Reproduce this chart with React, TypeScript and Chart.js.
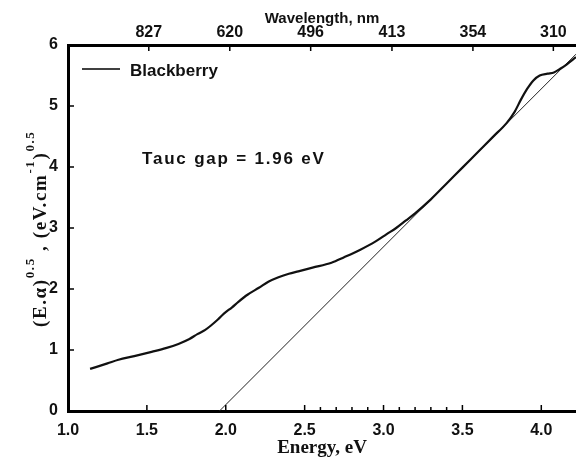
import React, { useEffect, useRef } from "react";
import { Chart, registerables } from "chart.js";

Chart.register(...registerables);

// Energy (eV) and (E·α)^0.5 of the Blackberry sample
const energy = [
  1.14, 1.25, 1.32, 1.42, 1.53, 1.62, 1.70, 1.77, 1.82, 1.87, 1.91, 1.95, 1.99,
  2.04, 2.08, 2.14, 2.21, 2.27, 2.33, 2.40, 2.46, 2.55, 2.67, 2.75, 2.85, 2.95,
  3.02, 3.08, 3.14, 3.20, 3.30, 3.40, 3.50, 3.60, 3.70, 3.78, 3.83, 3.87, 3.91,
  3.95, 3.99, 4.04, 4.08, 4.12, 4.16, 4.22,
];
const absorption = [
  0.69, 0.78, 0.84, 0.9, 0.97, 1.03, 1.1, 1.18, 1.26, 1.33, 1.41, 1.5, 1.6,
  1.7, 1.79, 1.91, 2.02, 2.12, 2.19, 2.25, 2.29, 2.35, 2.43, 2.52, 2.64, 2.78,
  2.9, 3.0, 3.12, 3.24, 3.47, 3.73, 3.99, 4.25, 4.51, 4.72, 4.9, 5.1, 5.28,
  5.42, 5.5, 5.53, 5.55, 5.61, 5.68, 5.8,
];
// Tauc extrapolation line
const taucEnergy = [1.96, 4.22];
const taucValue = [0, 5.85];

const energyTicks = [1.0, 1.5, 2.0, 2.5, 3.0, 3.5, 4.0];
const minorEnergyTicks = [2.6, 2.7, 2.8, 2.9, 3.1, 3.2, 3.3, 3.4];
const wavelengthTicks = [827, 620, 496, 413, 354, 310];
const yTicks = [0, 1, 2, 3, 4, 5, 6];

const seriesLabel = "Blackberry";
const gapLabel = "Tauc gap = 1.96 eV";

const SANS = '"Liberation Sans", Arial, sans-serif';
const SERIF = '"Liberation Serif", "Times New Roman", serif';

const overlayPlugin = {
  id: "overlay",
  afterDraw(chart: any) {
    const ctx = chart.ctx as CanvasRenderingContext2D;
    const area = chart.chartArea;
    const xs = chart.scales.x;
    const xt = chart.scales.x2;
    const ys = chart.scales.y;
    ctx.save();
    ctx.strokeStyle = "#000";
    ctx.lineWidth = 1.5;
    // inner tick marks
    ctx.beginPath();
    energyTicks.forEach((v) => {
      if (v <= 1.0) return;
      const px = xs.getPixelForValue(v);
      ctx.moveTo(px, area.bottom);
      ctx.lineTo(px, area.bottom - 6);
    });
    minorEnergyTicks.forEach((v) => {
      const px = xs.getPixelForValue(v);
      ctx.moveTo(px, area.bottom);
      ctx.lineTo(px, area.bottom - 4);
    });
    wavelengthTicks.forEach((w) => {
      const px = xt.getPixelForValue(1240 / w);
      ctx.moveTo(px, area.top);
      ctx.lineTo(px, area.top + 6);
    });
    yTicks.forEach((v) => {
      if (v === 0 || v === 6) return;
      const py = ys.getPixelForValue(v);
      ctx.moveTo(area.left, py);
      ctx.lineTo(area.left + 6, py);
    });
    ctx.stroke();

    // legend
    ctx.lineWidth = 1.5;
    ctx.beginPath();
    ctx.moveTo(82, 69);
    ctx.lineTo(120, 69);
    ctx.stroke();
    ctx.fillStyle = "#111";
    ctx.font = `bold 17px ${SANS}`;
    ctx.textBaseline = "alphabetic";
    ctx.textAlign = "left";
    ctx.fillText(chart.data.datasets[0].label, 130, 76);

    // annotation
    (ctx as any).letterSpacing = "1.8px";
    ctx.font = `bold 17px ${SANS}`;
    ctx.fillText(gapLabel, 142, 164);

    // y-axis title with superscripts
    (ctx as any).letterSpacing = "1.6px";
    const parts: [string, boolean][] = [
      ["(E.α)", false],
      ["0.5", true],
      [" , (eV.cm", false],
      ["-1", true],
      [")", false],
      ["0.5", true],
    ];
    ctx.translate(46, 327);
    ctx.rotate(-Math.PI / 2);
    let cx = 0;
    parts.forEach(([t, sup]) => {
      ctx.font = sup ? `bold 13px ${SERIF}` : `bold 19px ${SERIF}`;
      ctx.fillText(t, cx, sup ? -12 : 0);
      cx += ctx.measureText(t).width;
    });
    ctx.restore();
  },
};

export default function App() {
  const ref = useRef<HTMLCanvasElement | null>(null);
  useEffect(() => {
    if (!ref.current) return;
    const chart = new Chart(ref.current, {
      type: "line",
      data: {
        datasets: [
          {
            label: seriesLabel,
            data: energy.map((e, i) => ({ x: e, y: absorption[i] })),
            borderColor: "#111",
            borderWidth: 2.2,
            pointRadius: 0,
            cubicInterpolationMode: "monotone",
            xAxisID: "x",
            yAxisID: "y",
          },
          {
            label: "Tauc fit",
            data: taucEnergy.map((e, i) => ({ x: e, y: taucValue[i] })),
            borderColor: "#222",
            borderWidth: 1,
            pointRadius: 0,
            xAxisID: "x",
            yAxisID: "y",
          },
        ],
      },
      options: {
        animation: false,
        responsive: true,
        maintainAspectRatio: false,
        layout: { padding: 0 },
        plugins: { legend: { display: false }, tooltip: { enabled: false } },
        scales: {
          x: {
            type: "linear",
            position: "bottom",
            min: 1,
            max: 4.22,
            afterBuildTicks: (s: any) => {
              s.ticks = energyTicks.map((v) => ({ value: v }));
            },
            afterFit: (s: any) => {
              s.height = 48;
            },
            ticks: {
              callback: (v: any) => Number(v).toFixed(1),
              color: "#111",
              font: { family: SANS, size: 16, weight: "bold" },
              padding: 10,
              maxRotation: 0,
              autoSkip: false,
            },
            grid: { display: true, drawOnChartArea: false, drawTicks: false },
            border: { display: true, color: "#000", width: 3 },
            title: {
              display: true,
              text: "Energy, eV",
              color: "#111",
              font: { family: SERIF, size: 19, weight: "bold" },
              padding: { top: 0, bottom: 0 },
            },
          },
          x2: {
            type: "linear",
            position: "top",
            min: 1,
            max: 4.14,
            afterBuildTicks: (s: any) => {
              s.ticks = wavelengthTicks.map((w) => ({ value: 1240 / w }));
            },
            afterFit: (s: any) => {
              s.height = 45;
            },
            ticks: {
              callback: (_v: any, i: number) => String(wavelengthTicks[i]),
              color: "#111",
              font: { family: SANS, size: 16, weight: "bold" },
              padding: 3,
              maxRotation: 0,
              autoSkip: false,
            },
            grid: { display: true, drawOnChartArea: false, drawTicks: false },
            border: { display: true, color: "#000", width: 3 },
            title: {
              display: true,
              text: "Wavelength, nm",
              color: "#111",
              font: { family: SANS, size: 15, weight: "bold" },
              padding: { top: 10, bottom: 0 },
            },
          },
          y: {
            type: "linear",
            position: "left",
            min: 0,
            max: 6,
            afterBuildTicks: (s: any) => {
              s.ticks = yTicks.map((v) => ({ value: v }));
            },
            afterFit: (s: any) => {
              s.width = 68;
            },
            ticks: {
              color: "#111",
              font: { family: SANS, size: 16, weight: "bold" },
              padding: 10,
            },
            grid: { display: true, drawOnChartArea: false, drawTicks: false },
            border: { display: true, color: "#000", width: 3 },
          },
        },
      },
      plugins: [overlayPlugin],
    } as any);
    return () => chart.destroy();
  }, []);
  return (
    <div style={{ position: "absolute", left: 0, top: 0, width: 576, height: 459, background: "#fff" }}>
      <canvas ref={ref} />
    </div>
  );
}
